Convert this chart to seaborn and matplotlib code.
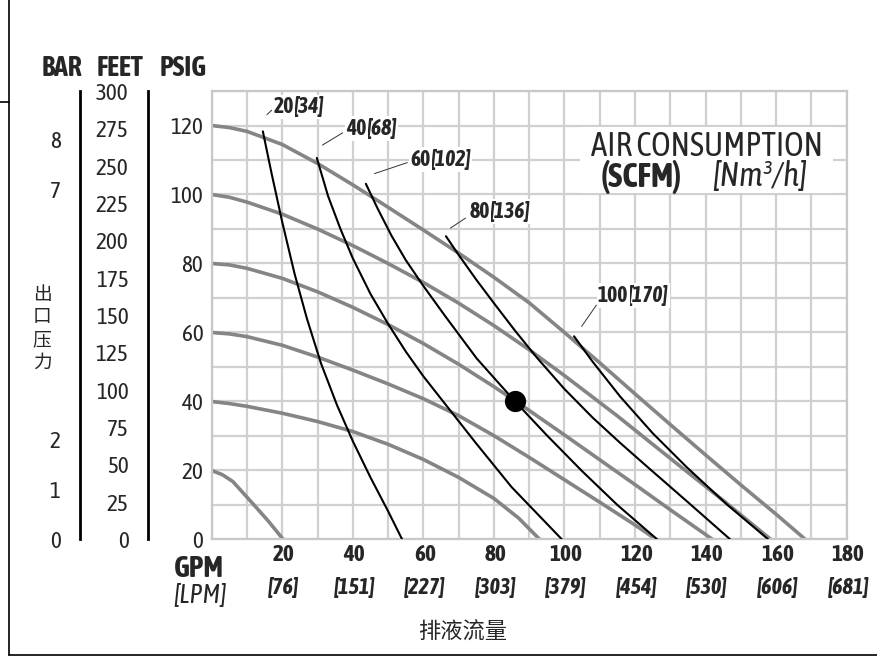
import numpy as np
import pandas as pd
import matplotlib.pyplot as plt
import seaborn as sns
from matplotlib import font_manager
from matplotlib.lines import Line2D
from matplotlib.patches import Rectangle

sns.set_style('white')

# pick a narrow sans (with a bold face) if the machine has one
ttf = font_manager.fontManager.ttflist


def weights(name):
    out = set()
    for f in ttf:
        if f.name == name:
            w = f.weight
            out.add(w if isinstance(w, (int, float)) else font_manager.weight_dict.get(w, 400))
    return out


narrow = sorted({f.name for f in ttf
                 if ('narrow' in f.name.lower() or 'condensed' in f.name.lower())
                 and 'mono' not in f.name.lower() and 'serif' not in f.name.lower()})
good = [n for n in narrow if max(weights(n)) >= 600 and min(weights(n)) <= 450]
if good:
    plt.rcParams['font.family'] = [good[0], 'DejaVu Sans']
    SC = 1.155
elif narrow:
    plt.rcParams['font.family'] = [narrow[0], 'DejaVu Sans']
    SC = 1.155
else:
    plt.rcParams['font.family'] = ['DejaVu Sans']
    SC = 0.84
CJK = ['Noto Sans CJK SC', 'DejaVu Sans']

# pressure curves (grey), one per air inlet pressure, psig
gray_levels = [120, 100, 80, 60, 40, 20]
gray120_gpm = [0, 5, 10, 20, 30, 40, 50, 60, 70, 80, 90, 100, 110, 120, 130, 140, 150, 160, 168.3]
gray120_psig = [120, 119.4, 118.3, 114.5, 109, 102.8, 96.3, 89.7, 83, 76, 68.6, 60, 51.2, 42.2,
                33.3, 24.5, 15.8, 7.3, 0]
gray100_gpm = [0, 5, 10, 20, 30, 40, 50, 60, 70, 80, 90, 100, 115, 130, 145, 158.5]
gray100_psig = [100, 99.2, 97.8, 94.3, 90, 85.2, 80, 74.5, 68.5, 62, 55, 47.5, 35.8, 23.5, 11.3, 0]
gray80_gpm = [0, 5, 10, 20, 30, 40, 50, 60, 70, 80, 90, 100, 110, 120, 130, 142]
gray80_psig = [80, 79.6, 78.6, 75.7, 71.8, 67.3, 62.3, 56.8, 50.8, 44.3, 37.4, 30.3, 23.1, 15.9, 8.6, 0]
gray60_gpm = [0, 5, 10, 20, 30, 40, 50, 60, 70, 80, 90, 100, 110, 120, 126]
gray60_psig = [60, 59.6, 58.8, 56.3, 52.9, 49.1, 45.1, 40.8, 35.9, 30.1, 23.8, 17.3, 10.8, 4.2, 0]
gray40_gpm = [0, 5, 10, 20, 30, 40, 50, 60, 70, 80, 87, 93]
gray40_psig = [40, 39.4, 38.6, 36.6, 34.2, 31.3, 27.6, 23.2, 18, 11.9, 6.2, 0]
gray20_gpm = [0, 3, 6, 9, 12, 16, 20.3]
gray20_psig = [20, 18.8, 16.8, 13.4, 10, 5.4, 0]

# air consumption curves (black), scfm
air_labels = ['20', '40', '60', '80', '100']
air_nm3h = ['[34]', '[68]', '[102]', '[136]', '[170]']
air20_gpm = [14.5, 17, 20, 23.5, 27, 31, 35.5, 40, 45, 50, 54]
air20_psig = [118.3, 106, 92, 77, 64, 51, 39, 28.5, 18, 8.2, 0]
air40_gpm = [29.8, 33, 36.5, 40, 45, 50, 55, 60, 67, 75, 85, 99.3]
air40_psig = [110.6, 99.5, 90, 81.5, 71.2, 62.5, 54.5, 47.3, 38.2, 27.8, 15.2, 0]
air60_gpm = [43.7, 47, 51, 55, 60, 66, 75.1, 86, 95, 105, 115, 126.3]
air60_psig = [103.1, 96, 88, 81, 73.5, 65, 52.5, 40, 30.2, 19.8, 10, 0]
air80_gpm = [66.4, 70, 75, 80, 86, 92.1, 100, 108, 116, 124, 135, 147]
air80_psig = [87.9, 82.5, 75.3, 68.5, 60.5, 52.8, 43.6, 35.3, 27.8, 20.6, 10.8, 0]
air100_gpm = [102.7, 108, 115.8, 125, 134.6, 146, 157.8]
air100_psig = [58.9, 51.5, 41.4, 30.8, 21, 10.2, 0]

point_gpm = [86]
point_psig = [40]

gpm_ticks = [20, 40, 60, 80, 100, 120, 140, 160, 180]
lpm_ticks = ['[76]', '[151]', '[227]', '[303]', '[379]', '[454]', '[530]', '[606]', '[681]']
psig_ticks = [0, 20, 40, 60, 80, 100, 120]
feet_ticks = [0, 25, 50, 75, 100, 125, 150, 175, 200, 225, 250, 275, 300]
bar_ticks = [0, 1, 2, 3, 4, 5, 6, 7, 8]
bar_ticklabels = ['0', '1', '2', '', '', '', '', '7', '8']

# label placement (gpm, psig)
label_pos = [(23.2, 125.4), (44, 119.1), (62, 110.1), (78.9, 95), (118.1, 70.7)]
leader_from = [(15.1, 122.6), (30.7, 113.9), (45.4, 105.8), (67, 89.8), (104.4, 61.1)]
leader_to = [(17.6, 125.0), (37.8, 118.3), (56.2, 109.5), (72.6, 93.6), (109.5, 68.6)]

gray_df = pd.concat([
    pd.DataFrame({'gpm': g, 'psig': p, 'curve': lvl})
    for lvl, g, p in zip(gray_levels,
                         [gray120_gpm, gray100_gpm, gray80_gpm, gray60_gpm, gray40_gpm, gray20_gpm],
                         [gray120_psig, gray100_psig, gray80_psig, gray60_psig, gray40_psig, gray20_psig])
])
air_df = pd.concat([
    pd.DataFrame({'gpm': g, 'psig': p, 'curve': lab})
    for lab, g, p in zip(air_labels,
                         [air20_gpm, air40_gpm, air60_gpm, air80_gpm, air100_gpm],
                         [air20_psig, air40_psig, air60_psig, air80_psig, air100_psig])
])

fig = plt.figure(figsize=(8.78, 6.58), dpi=100)
bottom, height = 0.1801, 0.6816
ax = fig.add_axes([0.2411, bottom, 0.7233, height])

sns.lineplot(data=gray_df, x='gpm', y='psig', units='curve', estimator=None,
             color='#858585', lw=2.6, ax=ax, zorder=2)
sns.lineplot(data=air_df, x='gpm', y='psig', units='curve', estimator=None,
             color='black', lw=1.5, ax=ax, zorder=3)
sns.scatterplot(x=point_gpm, y=point_psig, color='black', s=200, edgecolor='black', ax=ax, zorder=5)

ax.set_xlim(0, 180)
ax.set_ylim(0, 130)
ax.set_xticks(np.arange(0, 181, 10))
ax.set_xticklabels([])
ax.set_yticks(psig_ticks)
ax.set_yticks(np.arange(10, 131, 20), minor=True)
ax.set_xlabel('')
ax.set_ylabel('')
ax.tick_params(axis='x', length=0)
ax.tick_params(axis='y', which='major', length=4, width=1.5, color='#999999',
               labelsize=14.5 * SC, pad=2)
ax.tick_params(axis='y', which='minor', length=0)
ax.set_axisbelow(True)
ax.grid(True, which='both', color='#d0d0d0', lw=1.6)
for s in ax.spines.values():
    s.set_color('#c8c8c8')
    s.set_linewidth(1.6)

# white box behind the title
ax.add_patch(Rectangle((104.5, 100.5), 71.5, 19, fc='white', ec='none', zorder=1))
ax.text(140.3, 114.0, 'AIR CONSUMPTION', ha='center', va='center', fontsize=20.5 * SC, zorder=4)
ax.text(133.4, 105.2, '(SCFM)', ha='right', va='center', fontsize=21 * SC, fontweight='bold', zorder=4)
ax.text(141.8, 105.2, '[Nm³/h]', ha='left', va='center', fontsize=20.5 * SC, style='italic', zorder=4)

for lab, br, (lx, ly), f, t in zip(air_labels, air_nm3h, label_pos, leader_from, leader_to):
    ax.text(lx, ly, br, ha='left', va='center', fontsize=13.5 * SC, fontweight='bold',
            style='italic', bbox=dict(fc='white', ec='none', pad=1.0), zorder=4)
    ax.text(lx, ly, lab, ha='right', va='center', fontsize=13.5 * SC, fontweight='bold',
            bbox=dict(fc='white', ec='none', pad=1.0), zorder=4.1)
    ax.annotate('', xy=f, xytext=t, arrowprops=dict(arrowstyle='-', color='#333333', lw=0.7), zorder=4)

# GPM / LPM tick labels
xt = ax.get_xaxis_transform()
for g, l in zip(gpm_ticks, lpm_ticks):
    ax.text(g + 0.4, -0.035, str(g), transform=xt, ha='center', va='center',
            fontsize=14.4 * SC, fontweight='bold')
    ax.text(g + 0.4, -0.108, l, transform=xt, ha='center', va='center',
            fontsize=13.8 * SC, fontweight='bold', style='italic')
fig.text(0.2267, 0.1365, 'GPM', ha='center', va='center', fontsize=18.5 * SC, fontweight='bold')
fig.text(0.2278, 0.0950, '[LPM]', ha='center', va='center', fontsize=16.5 * SC, style='italic')
fig.text(0.5273, 0.0395, '排液流量', ha='center', va='center', fontsize=16, family=CJK)

# FEET axis
ax_ft = fig.add_axes([148 / 878, bottom, 0.0001, height])
ax_ft.set_ylim(0, 130 * 2.31)
ax_ft.set_yticks(feet_ticks)
ax_ft.set_xticks([])
# BAR axis
ax_bar = fig.add_axes([80 / 878, bottom, 0.0001, height])
ax_bar.set_ylim(0, 130 / 14.5038)
ax_bar.set_yticks(bar_ticks)
ax_bar.set_yticklabels(bar_ticklabels)
ax_bar.set_xticks([])
for a in (ax_ft, ax_bar):
    a.patch.set_visible(False)
    for side in ('top', 'right', 'bottom'):
        a.spines[side].set_visible(False)
    a.spines['left'].set_color('black')
    a.spines['left'].set_linewidth(2)
    a.tick_params(axis='y', length=10, width=1.6, color='black', labelsize=14.5 * SC, pad=4)

fig.text(0.0706, 0.896, 'BAR', ha='center', va='center', fontsize=17.3 * SC, fontweight='bold')
fig.text(0.1367, 0.896, 'FEET', ha='center', va='center', fontsize=17.3 * SC, fontweight='bold')
fig.text(0.2084, 0.896, 'PSIG', ha='center', va='center', fontsize=17.3 * SC, fontweight='bold')
fig.text(0.0478, 0.5015, '出\n口\n压\n力', ha='center', va='center', linespacing=1.1,
         fontsize=13.5, family=CJK)

# page frame
fig.add_artist(Line2D([8.5 / 878, 8.5 / 878], [1, 1 - 655 / 658], color='black', lw=1.2))
fig.add_artist(Line2D([0, 8.5 / 878], [1 - 101.5 / 658, 1 - 101.5 / 658], color='black', lw=1.2))
fig.add_artist(Line2D([8.5 / 878, 1], [1 - 655 / 658, 1 - 655 / 658], color='black', lw=1.2))

plt.savefig('out.png', dpi=100)
plt.close()
